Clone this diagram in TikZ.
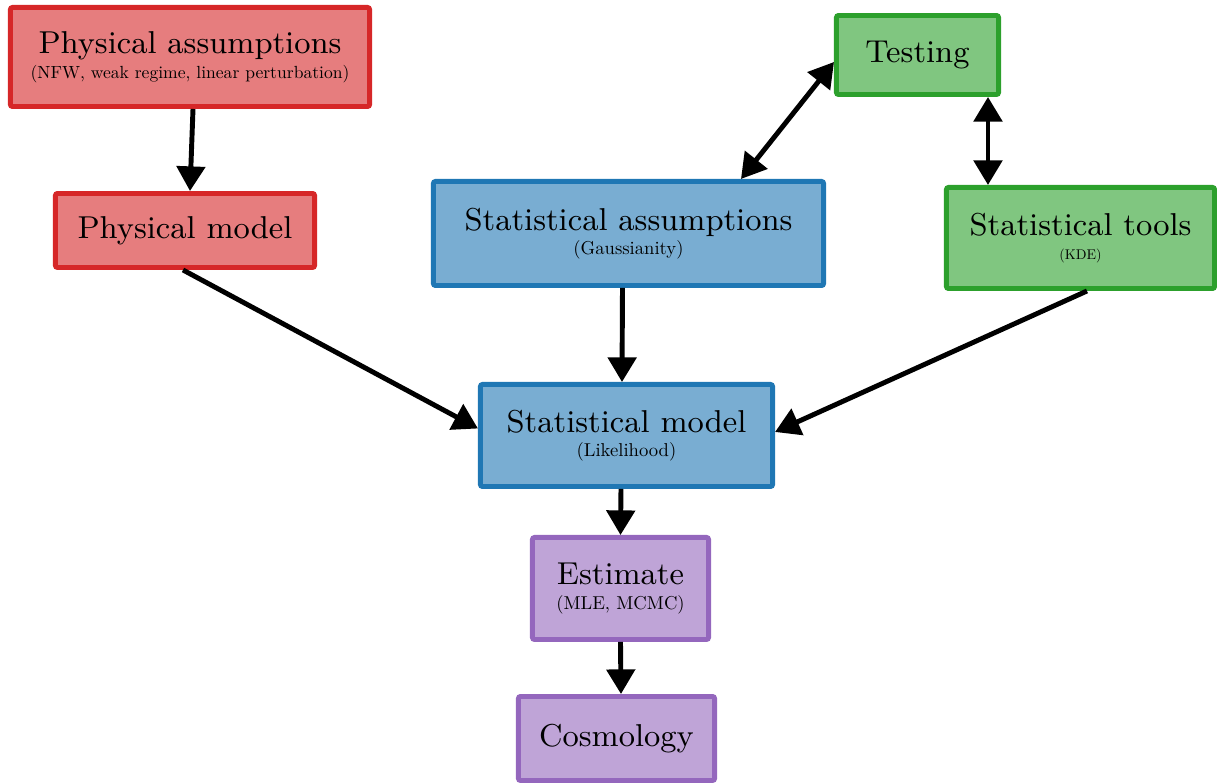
\documentclass[tikz,border=0pt]{standalone}
\usepackage{xcolor}
\usepackage{tikz}
\usetikzlibrary{arrows.meta,calc}
\definecolor{tabred}{RGB}{214,39,40}
\definecolor{tabblue}{RGB}{31,119,180}
\definecolor{tabgreen}{RGB}{44,160,44}
\definecolor{tabpurple}{RGB}{148,103,189}
\newcommand{\boxnote}[2][0.53]{\scalebox{#1}{\fontsize{10}{12}\selectfont #2}}

\begin{document}
\begin{tikzpicture}[x=0.01cm, y=-0.01cm,
    box/.style={draw=#1, fill=#1!60, line width=1.4pt, rounded corners=0.6pt, align=center, inner sep=0pt, font=\fontsize{9}{7}\selectfont},
    arr/.style={line width=1.4pt, -{Triangle[length=7pt,width=8pt]}},
    dbl/.style={line width=1.4pt, {Triangle[length=7pt,width=8pt]}-{Triangle[length=7pt,width=8pt]}}]
        \useasboundingbox (0,0) rectangle (1217,783);

        % physical side
        \node[box=tabred, minimum width=3.59cm, minimum height=0.99cm] (physass) at (190,57) {Physical assumptions\\\boxnote[0.5]{(NFW, weak regime, linear perturbation)}};
        \node[box=tabred, minimum width=2.59cm, minimum height=0.74cm] (physmod) at (185,230.5) {Physical model};

        % statistical side
        \node[box=tabblue, minimum width=3.90cm, minimum height=1.04cm] (statass) at (628.5,233.5) {Statistical assumptions\\\boxnote{(Gaussianity)}};
        \node[box=tabgreen, minimum width=1.62cm, minimum height=0.79cm] (testing) at (917.5,55) {Testing};
        \node[box=tabgreen, minimum width=2.68cm, minimum height=1.01cm] (stattools) at (1080.5,238) {Statistical tools\\\boxnote[0.4]{(KDE)}};
        \node[box=tabblue, minimum width=2.92cm, minimum height=1.02cm] (statmod) at (626.5,435.5) {Statistical model\\\boxnote{(Likelihood)}};

        % results
        \node[box=tabpurple, minimum width=1.76cm, minimum height=1.02cm] (estimate) at (620.5,588.5) {Estimate\\\boxnote{(MLE, MCMC)}};
        \node[box=tabpurple, minimum width=1.96cm, minimum height=0.84cm] (cosmo) at (616.5,738.5) {Cosmology};

        \draw[arr] ($(physass.south)+(3,0)$) -- ($(physmod.north)+(5,0)$);
        \draw[arr] ($(physmod.south)+(-2,0)$) -- ($(statmod.west)+(0,-7)$);
        \draw[arr] ($(statass.south)+(-6,0)$) -- ($(statmod.north)+(-4.5,0)$);
        \draw[arr] ($(stattools.south)+(6.5,0)$) -- ($(statmod.east)+(0,-3.5)$);
        \draw[dbl] ($(testing.west)+(0,7)$) -- ($(statass.north)+(112.5,0)$);
        \draw[dbl] ($(testing.south)+(70.5,0)$) -- ($(stattools.north)+(-92.5,0)$);
        \draw[arr] ($(statmod.south)+(-5.5,0)$) -- (estimate.north);
        \draw[arr] (estimate.south) -- ($(cosmo.north)+(4.5,0)$);
    \end{tikzpicture}
\end{document}
